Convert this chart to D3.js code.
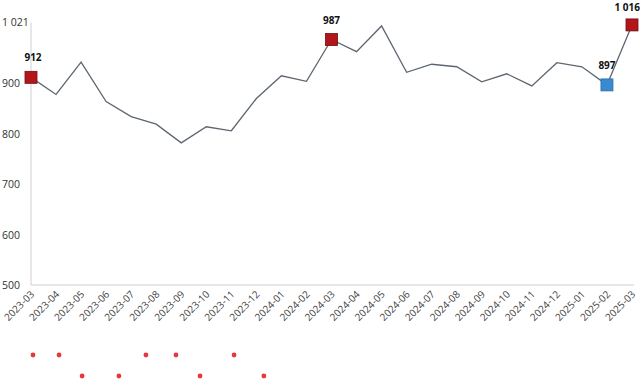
<!DOCTYPE html>
<html><head><meta charset="utf-8">
<script src="https://cdn.jsdelivr.net/npm/d3@7"></script>
<style>body{margin:0;background:#fff}svg{display:block}</style>
</head><body>
<script>
const months = ["2023-03","2023-04","2023-05","2023-06","2023-07","2023-08","2023-09","2023-10","2023-11","2023-12","2024-01","2024-02","2024-03","2024-04","2024-05","2024-06","2024-07","2024-08","2024-09","2024-10","2024-11","2024-12","2025-01","2025-02","2025-03"];
const values = [912,878,942,864,834,819,782,814,806,870,915,904,987,963,1014,922,938,933,903,919,895,941,933,897,1016];
const yTicks = [500,600,700,800,900,1021];
const markedRed = ["2023-03","2024-03","2025-03"];
const markedBlue = ["2025-02"];
// stray decorative dots below the axis: position in category units, row
const dotPos = [0.08,1.12,4.59,5.79,8.11,2.04,3.51,6.75,9.3];
const dotRow = [0,0,0,0,0,1,1,1,1];

const W=641,H=380;
const svg=d3.select("body").append("svg").attr("width",W).attr("height",H);
const x=d3.scalePoint().domain(months).range([31,632]);
const xi=d3.scaleLinear().domain([0,months.length-1]).range([31,632]);
const y=d3.scaleLinear().domain([500,1021]).range([285,22.4]);
const font="'Open Sans', 'DejaVu Sans', sans-serif";

// axes lines
svg.append("line").attr("x1",31).attr("x2",31).attr("y1",y(1021)).attr("y2",y(500)).attr("stroke","#d0d0d0");
svg.append("line").attr("x1",31).attr("x2",634).attr("y1",y(500)).attr("y2",y(500)).attr("stroke","#d0d0d0");

// y labels
svg.append("g").selectAll("text").data(yTicks).join("text")
  .attr("x",2).attr("y",d=>y(d)+4).attr("font-family",font).attr("font-size",10.5).attr("fill","#333")
  .text(d=>d3.format(",")(d).replace(","," "));

// x labels
svg.append("g").selectAll("text").data(months).join("text")
  .attr("transform",d=>`translate(${x(d)+4},${y(500)+10}) rotate(-45)`)
  .attr("text-anchor","end").attr("font-family",font).attr("font-size",10).attr("fill","#444")
  .text(d=>d);

// line
const line=d3.line().x((d,i)=>x(months[i])).y(d=>y(d));
svg.append("path").datum(values).attr("d",line).attr("fill","none").attr("stroke","#5d6670").attr("stroke-width",1.3);

// markers
const s=12;
months.forEach((m,i)=>{
  let col=null;
  if(markedRed.includes(m)) col="#b3151b";
  if(markedBlue.includes(m)) col="#3a8ad0";
  if(!col) return;
  svg.append("rect").attr("x",x(m)-s/2).attr("y",y(values[i])-s/2).attr("width",s).attr("height",s)
    .attr("fill",col).attr("stroke",col==="#b3151b"?"#6d1010":"#2b6da8").attr("stroke-width",0.8);
});

// value labels
const lbl=(m,dx,dy,anchor)=>{
  const i=months.indexOf(m);
  svg.append("text").attr("x",x(m)+dx).attr("y",y(values[i])+dy).attr("text-anchor",anchor)
    .attr("font-family",font).attr("font-size",10).attr("font-weight","bold").attr("fill","#111")
    .text(d3.format(",")(values[i]).replace(","," "));
};
lbl("2023-03",2,-16,"middle");
lbl("2024-03",0,-16,"middle");
lbl("2025-02",0,-16,"middle");
lbl("2025-03",8,-14,"end");

// decorative dots
svg.append("g").selectAll("circle").data(dotPos).join("circle")
  .attr("cx",d=>xi(d)).attr("cy",(d,i)=>dotRow[i]?376:355).attr("r",2.4).attr("fill","#e8373b");
</script>
</body></html>
